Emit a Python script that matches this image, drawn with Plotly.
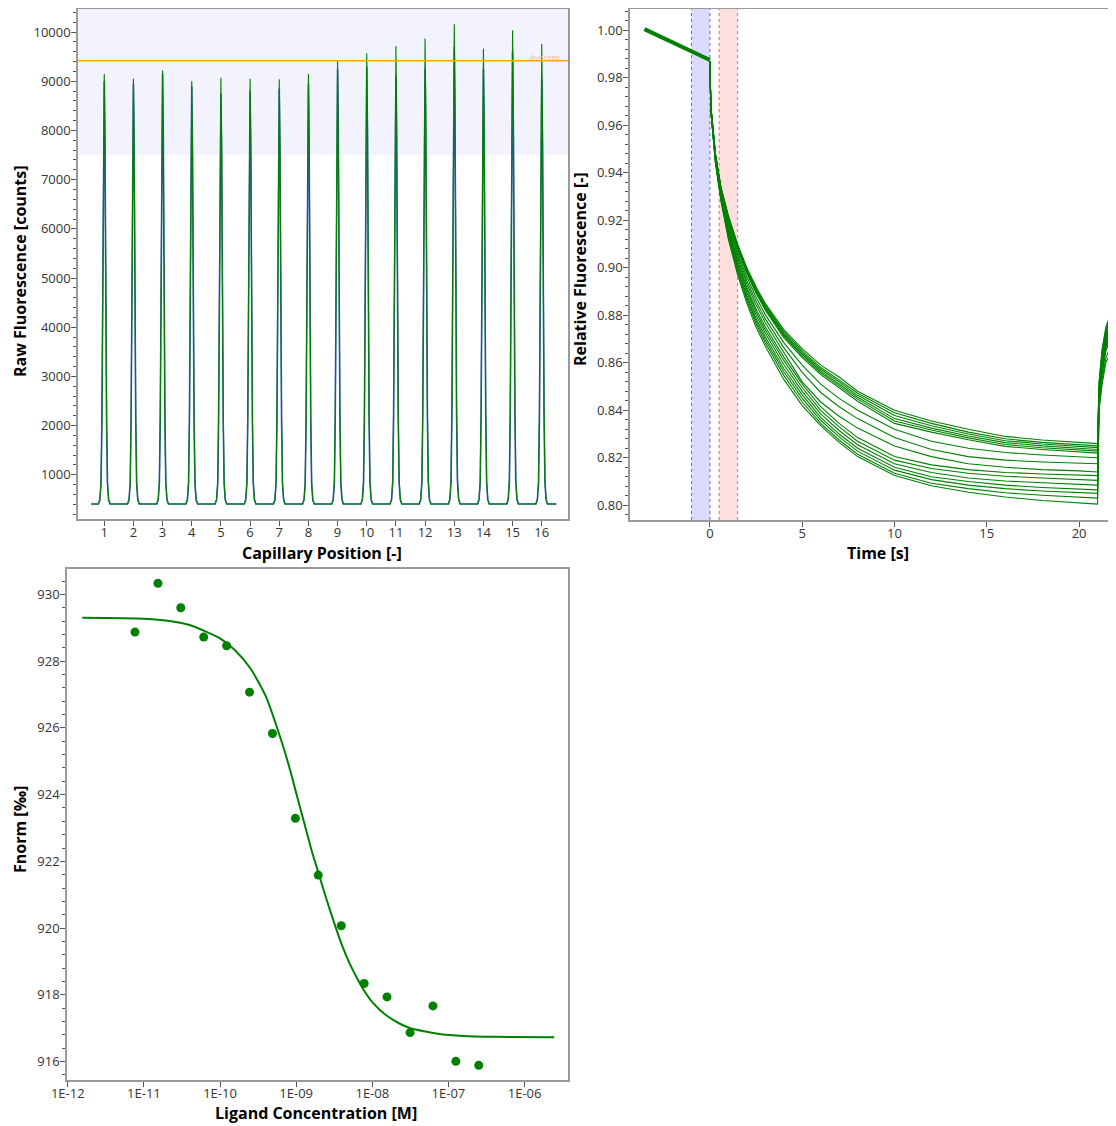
import plotly.graph_objects as go

# ---------------- Top-left: capillary scan ----------------
cap_positions = list(range(1, 17))
cap_peak_green = [9150, 9050, 9220, 9000, 9070, 9050, 9040, 9150, 9420, 9570, 9720, 9870, 10160, 9660, 10040, 9760]
cap_peak_blue = [9000, 8950, 9150, 8900, 8750, 8800, 8850, 8950, 9250, 9300, 9100, 9250, 9700, 9250, 9600, 9050]
cap_baseline = 405
scan_start, scan_end = 0.55, 16.5
# peak profile (offset from centre, fraction of peak height)
profile_offsets = [-0.2, -0.15, -0.11, -0.08, -0.05, -0.025, 0, 0.025, 0.05, 0.08, 0.11, 0.15, 0.2]
profile_frac = [0, 0.01, 0.05, 0.2, 0.5, 0.85, 1, 0.85, 0.5, 0.2, 0.05, 0.01, 0]
average_level = 9420
shade_bottom = 7500

# ---------------- Top-right: MST time traces ----------------
pre_times = [-3.55, -2.5, -1.5, -0.5, 0]
pre_values = [1.0005, 0.9967, 0.9930, 0.9894, 0.9875]
decay_times = [0, 0.05, 0.3, 0.6, 1, 1.5, 2, 2.5, 3, 4, 5, 6, 7, 8, 10, 12, 14, 16, 18, 20, 21]
decay_curves = [
    [.987, .968, .948, .934, .922, .910, .900, .892, .885, .874, .866, .859, .854, .848, .840, .8355, .832, .829, .8275, .8265, .826],
    [.987, .9679, .9478, .9338, .9216, .9095, .8994, .8913, .8843, .8732, .8650, .8580, .8528, .8472, .8390, .8345, .8308, .8280, .8265, .8255, .8250],
    [.987, .9679, .9477, .9336, .9213, .9091, .8990, .8908, .8837, .8725, .8643, .8573, .8520, .8463, .8378, .8335, .8300, .8272, .8258, .8248, .8243],
    [.987, .9678, .9476, .9334, .9210, .9087, .8985, .8903, .8832, .8719, .8636, .8565, .8511, .8455, .8365, .8325, .8292, .8264, .8250, .8240, .8235],
    [.987, .9677, .9475, .9332, .9207, .9083, .8981, .8898, .8827, .8713, .8629, .8558, .8503, .8447, .8355, .8317, .8284, .8256, .8242, .8233, .8228],
    [.987, .9677, .9474, .9330, .9204, .9079, .8976, .8893, .8821, .8706, .8622, .8550, .8495, .8438, .8345, .8308, .8276, .8248, .8235, .8226, .8220],
    [.987, .9675, .9470, .9324, .9194, .9066, .8961, .8876, .8803, .8685, .8590, .8510, .8450, .8400, .8320, .8270, .8240, .8222, .8212, .8205, .8200],
    [.987, .9673, .9466, .9318, .9184, .9053, .8946, .8859, .8785, .8664, .8560, .8475, .8415, .8365, .8285, .8235, .8205, .8190, .8182, .8177, .8175],
    [.987, .9671, .9462, .9313, .9175, .9042, .8933, .8844, .8769, .8646, .8520, .8435, .8375, .8325, .8250, .8205, .8175, .8160, .8150, .8145, .8140],
    [.987, .9669, .9458, .9307, .9165, .9029, .8918, .8827, .8751, .8625, .8510, .8415, .8345, .8285, .8205, .8170, .8150, .8138, .8132, .8128, .8125],
    [.987, .9668, .9455, .9303, .9158, .9019, .8907, .8815, .8738, .8610, .8495, .8400, .8330, .8270, .8190, .8155, .8135, .8122, .8115, .8110, .8105],
    [.987, .9666, .9452, .9298, .9150, .9009, .8895, .8801, .8724, .8593, .8480, .8385, .8315, .8255, .8175, .8138, .8115, .8102, .8095, .8090, .8085],
    [.987, .9664, .9449, .9293, .9142, .8999, .8883, .8787, .8710, .8576, .8465, .8370, .8300, .8240, .8160, .8120, .8100, .8085, .8075, .8070, .8065],
    [.987, .9663, .9446, .9289, .9135, .8990, .8873, .8776, .8697, .8562, .8450, .8358, .8288, .8228, .8148, .8108, .8085, .8070, .8060, .8055, .8050],
    [.987, .9662, .9443, .9285, .9128, .8980, .8862, .8764, .8684, .8547, .8435, .8345, .8275, .8215, .8135, .8093, .8070, .8053, .8042, .8035, .8030],
    [.987, .966, .944, .928, .912, .897, .885, .875, .867, .853, .8420, .8335, .8265, .8205, .8125, .8082, .8055, .8035, .8020, .8010, .8005],
]
recovery_times = [21.08, 21.25, 21.45, 21.8]
recovery_curves = [
    [.852, .866, .875, .883], [.851, .865, .874, .8815], [.850, .864, .873, .880], [.849, .862, .871, .878],
    [.848, .861, .870, .877], [.847, .860, .869, .876], [.846, .859, .868, .875], [.845, .858, .867, .874],
    [.844, .857, .866, .873], [.847, .862, .872, .8835], [.846, .861, .871, .882], [.845, .859, .869, .880],
    [.843, .857, .867, .877], [.842, .855, .865, .872], [.841, .853, .862, .869], [.840, .851, .860, .866],
]
cold_region = [-1.0, 0.0]
hot_region = [0.5, 1.5]

# ---------------- Bottom: dose response ----------------
ligand_conc = [7.63e-12, 1.53e-11, 3.05e-11, 6.1e-11, 1.22e-10, 2.44e-10, 4.88e-10, 9.77e-10,
               1.95e-9, 3.91e-9, 7.81e-9, 1.56e-8, 3.13e-8, 6.25e-8, 1.25e-7, 2.5e-7]
fnorm = [928.87, 930.33, 929.60, 928.72, 928.46, 927.07, 925.83, 923.29,
         921.59, 920.07, 918.34, 917.94, 916.87, 917.67, 916.01, 915.89]
fit_log_conc = [-11.81, -11.0, -10.6, -10.4, -10.2, -10.0, -9.8, -9.6, -9.4, -9.2, -9.1, -9.0, -8.9, -8.8,
                -8.7, -8.6, -8.5, -8.4, -8.3, -8.2, -8.1, -8.0, -7.9, -7.8, -7.65, -7.5, -7.3, -7.1, -6.8,
                -6.4, -5.61]
fit_fnorm = [929.30, 929.27, 929.18, 929.08, 928.90, 928.68, 928.32, 927.78, 926.95, 925.65, 924.90, 924.05,
             923.20, 922.35, 921.60, 920.85, 920.15, 919.50, 918.95, 918.50, 918.10, 917.78, 917.55, 917.36,
             917.15, 917.00, 916.90, 916.82, 916.77, 916.745, 916.73]
conc_tick_vals = [1e-12, 1e-11, 1e-10, 1e-9, 1e-8, 1e-7, 1e-6]
conc_tick_text = ["1E-12", "1E-11", "1E-10", "1E-09", "1E-08", "1E-07", "1E-06"]

GREEN = "#008000"
FONT = "Open Sans"
OFF = 8  # page body margin of the browser
W, H = 1116 - OFF, 1126 - OFF


def px(p):
    return (p - OFF) / W


def py(p):
    return 1 - (p - OFF) / H


fig = go.Figure()


def scan_trace(heights):
    xs, ys = [scan_start], [cap_baseline]
    for p, h in zip(cap_positions, heights):
        for o, f in zip(profile_offsets, profile_frac):
            xs.append(p + o)
            ys.append(cap_baseline + f * (h - cap_baseline))
    xs.append(scan_end)
    ys.append(cap_baseline)
    return xs, ys


bx, by = scan_trace(cap_peak_blue)
gx, gy = scan_trace(cap_peak_green)
fig.add_trace(go.Scatter(x=bx, y=by, mode="lines", line=dict(color="rgba(30,70,170,0.9)", width=1.6),
                         xaxis="x", yaxis="y", showlegend=False))
fig.add_trace(go.Scatter(x=gx, y=gy, mode="lines", line=dict(color=GREEN, width=1.1),
                         xaxis="x", yaxis="y", showlegend=False))
fig.add_trace(go.Scatter(x=[0.1, 16.9], y=[average_level, average_level], mode="lines",
                         line=dict(color="#FFA500", width=1.5), xaxis="x", yaxis="y", showlegend=False))

# time traces
fig.add_trace(go.Scatter(x=pre_times, y=pre_values, mode="lines", line=dict(color=GREEN, width=4),
                         xaxis="x2", yaxis="y2", showlegend=False))
for dc, rc in zip(decay_curves, recovery_curves):
    fig.add_trace(go.Scatter(x=decay_times + recovery_times, y=dc + rc, mode="lines",
                             line=dict(color=GREEN, width=1.1), xaxis="x2", yaxis="y2", showlegend=False))

# dose response
fig.add_trace(go.Scatter(x=[10 ** v for v in fit_log_conc], y=fit_fnorm, mode="lines",
                         line=dict(color=GREEN, width=2, shape="spline", smoothing=0.6),
                         xaxis="x3", yaxis="y3", showlegend=False))
fig.add_trace(go.Scatter(x=ligand_conc, y=fnorm, mode="markers", marker=dict(color=GREEN, size=9),
                         xaxis="x3", yaxis="y3", showlegend=False))

shapes = [
    dict(type="rect", xref="x domain", yref="y", x0=0, x1=1, y0=shade_bottom, y1=10470,
         fillcolor="#F3F3FD", line=dict(width=0), layer="below"),
    dict(type="rect", xref="x2", yref="y2 domain", x0=cold_region[0], x1=cold_region[1], y0=0, y1=1,
         fillcolor="rgba(0,0,255,0.14)", line=dict(width=0), layer="below"),
    dict(type="rect", xref="x2", yref="y2 domain", x0=hot_region[0], x1=hot_region[1], y0=0, y1=1,
         fillcolor="rgba(255,0,0,0.13)", line=dict(width=0), layer="below"),
]
for xv in cold_region:
    shapes.append(dict(type="line", xref="x2", yref="y2 domain", x0=xv, x1=xv, y0=0, y1=1,
                       line=dict(color="rgba(60,60,255,0.8)", width=1, dash="dot"), layer="below"))
for xv in hot_region:
    shapes.append(dict(type="line", xref="x2", yref="y2 domain", x0=xv, x1=xv, y0=0, y1=1,
                       line=dict(color="rgba(255,60,60,0.8)", width=1, dash="dot"), layer="below"))

tickfont = dict(family=FONT, size=13, color="#333333")
axis_common = dict(showgrid=False, zeroline=False, showline=True, mirror=True, linecolor="#9a9a9a",
                   linewidth=1.5, ticks="outside", ticklen=5, tickcolor="#555555", tickfont=tickfont,
                   automargin=False)
xstand = dict(ticklabelstandoff=-4)
ystand = dict(ticklabelstandoff=-2)

fig.update_layout(
    width=W, height=H, margin=dict(l=0, r=0, t=0, b=0, autoexpand=False),
    paper_bgcolor="white", plot_bgcolor="white",
    shapes=shapes,
    xaxis=dict(axis_common, **xstand, domain=[px(78), px(568)], range=[0.1, 16.9], tickvals=cap_positions,
               anchor="y"),
    yaxis=dict(axis_common, **ystand, domain=[py(519), py(9)], range=[100, 10470], dtick=1000, tick0=0,
               tickformat="d",
               minor=dict(ticks="outside", ticklen=3, dtick=200, tickcolor="#555555"), anchor="x"),
    xaxis2=dict(axis_common, **xstand, domain=[px(630), 1.0], range=[-4.33, 22.0], dtick=5, tick0=0,
                anchor="y2"),
    yaxis2=dict(axis_common, **ystand, domain=[py(520), py(9)], range=[0.7938, 1.009], dtick=0.02, tick0=0.8,
                tickformat=".2f", minor=dict(ticks="outside", ticklen=3, dtick=0.004, tickcolor="#555555"),
                anchor="x2"),
    xaxis3=dict(axis_common, **xstand, domain=[px(67), px(568)], type="log", range=[-12.01, -5.43],
                tickvals=conc_tick_vals, ticktext=conc_tick_text, anchor="y3"),
    yaxis3=dict(axis_common, **ystand, domain=[py(1080), py(569)], range=[915.45, 930.76], dtick=2, tick0=916,
                minor=dict(ticks="outside", ticklen=3, dtick=0.4, tickcolor="#555555"), anchor="x3"),
)

title_font = dict(family=FONT, size=16, color="black")
annotations = [
    dict(text="<b>Raw Fluorescence [counts]</b>", x=px(20), y=py(271), textangle=-90),
    dict(text="<b>Capillary Position [-]</b>", x=px(322), y=py(553)),
    dict(text="<b>Relative Fluorescence [-]</b>", x=px(580), y=py(269), textangle=-90),
    dict(text="<b>Time [s]</b>", x=px(878), y=py(553)),
    dict(text="<b>Fnorm [‰]</b>", x=px(20), y=py(830), textangle=-90),
    dict(text="<b>Ligand Concentration [M]</b>", x=px(316), y=py(1113)),
]
for a in annotations:
    a.update(xref="paper", yref="paper", showarrow=False, xanchor="center", yanchor="middle", font=title_font)
annotations.append(dict(text="Average", x=16.14, y=average_level, xref="x", yref="y", showarrow=False,
                        xanchor="center", yanchor="bottom", yshift=-3,
                        font=dict(family=FONT, size=8, color="#FFC466")))
fig.update_layout(annotations=annotations)

fig.write_html("out.html")
